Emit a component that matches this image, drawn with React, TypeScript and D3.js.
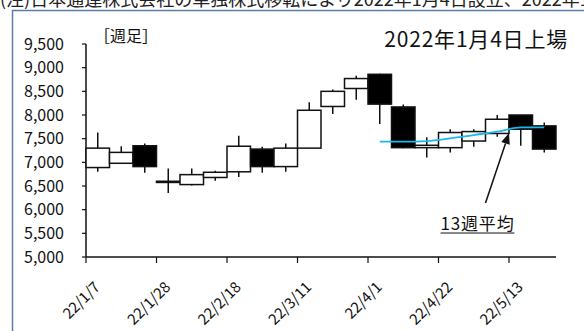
import * as d3 from "d3";
import { useEffect, useRef } from "react";

const weeks = [
  "22/1/7", "22/1/14", "22/1/21", "22/1/28", "22/2/4", "22/2/11", "22/2/18",
  "22/2/25", "22/3/4", "22/3/11", "22/3/18", "22/3/25", "22/4/1", "22/4/8",
  "22/4/15", "22/4/22", "22/4/29", "22/5/6", "22/5/13", "22/5/20",
];
const opens = [6890, 6980, 7350, 6600, 6530, 6680, 6800, 7280, 6910, 7300, 8180, 8560, 8860, 8170, 7310, 7310, 7450, 7610, 8000, 7770];
const highs = [7630, 7340, 7400, 6870, 6870, 6820, 7560, 7330, 7400, 8270, 8540, 8830, 8870, 8220, 7530, 7700, 7700, 8000, 8000, 7840];
const lows = [6800, 6970, 6780, 6350, 6510, 6610, 6690, 6780, 6800, 7290, 8020, 8320, 7810, 7300, 7100, 7210, 7330, 7540, 7350, 7210];
const closes = [7300, 7210, 6910, 6575, 6740, 6790, 7340, 6910, 7300, 8100, 8500, 8770, 8230, 7310, 7360, 7630, 7650, 7910, 7700, 7280];

// 13週移動平均（4/1から）
const maWeeks = ["22/4/1", "22/4/8", "22/4/15", "22/4/22", "22/4/29", "22/5/6", "22/5/13", "22/5/20"];
const maValues = [7436, 7436, 7450, 7507, 7577, 7648, 7740, 7740];

const yTicks = [5000, 5500, 6000, 6500, 7000, 7500, 8000, 8500, 9000, 9500];
const xTickLabels = ["22/1/7", "22/1/28", "22/2/18", "22/3/11", "22/4/1", "22/4/22", "22/5/13"];

const W = 584;
const H = 331;
const left = 86;
const right = 556;
const top = 44;
const bottom = 257;
const font = "'Noto Sans CJK JP', 'Noto Sans', sans-serif";

export default function App() {
  const ref = useRef<SVGSVGElement>(null);

  useEffect(() => {
    const svg = d3.select(ref.current);
    svg.selectAll("*").remove();

    const x = d3.scaleBand().domain(weeks).range([left, right]).paddingInner(0).paddingOuter(0);
    const y = d3.scaleLinear().domain([5000, 9500]).range([bottom, top]);
    const bw = x.bandwidth();

    svg.append("rect").attr("width", W).attr("height", H).attr("fill", "white");

    // 注記（上端で切れている）
    svg.append("text")
      .attr("x", 0).attr("y", 6)
      .attr("font-family", font).attr("font-size", 18).attr("fill", "#222")
      .text("(注)日本通運株式会社の単独株式移転により2022年1月4日設立、2022年1月4日上場");

    // 枠
    svg.append("rect")
      .attr("x", 12.5).attr("y", 10.5).attr("width", W).attr("height", H)
      .attr("fill", "white").attr("stroke", "#5a7bab").attr("stroke-width", 1.5);

    svg.append("text")
      .attr("x", 94).attr("y", 42)
      .attr("font-family", font).attr("font-size", 16).attr("fill", "#111")
      .text("［週足］");

    svg.append("text")
      .attr("x", 568).attr("y", 47).attr("text-anchor", "end")
      .attr("font-family", font).attr("font-size", 21).attr("letter-spacing", 0.8).attr("fill", "#111")
      .text("2022年1月4日上場");

    // y軸
    const gy = svg.append("g");
    gy.append("line").attr("x1", left).attr("x2", left).attr("y1", top).attr("y2", bottom)
      .attr("stroke", "#111").attr("stroke-width", 1.5);
    gy.selectAll(".yt").data(yTicks).enter().append("line")
      .attr("x1", left - 4).attr("x2", left).attr("y1", (d) => y(d)).attr("y2", (d) => y(d))
      .attr("stroke", "#111").attr("stroke-width", 1.2);
    gy.selectAll(".yl").data(yTicks).enter().append("text")
      .attr("x", 64).attr("y", (d) => y(d)).attr("dy", "0.36em").attr("text-anchor", "end")
      .attr("font-family", font).attr("font-size", 16).attr("fill", "#111")
      .text((d) => d3.format(",")(d));

    // x軸
    const gx = svg.append("g");
    gx.append("line").attr("x1", left).attr("x2", right).attr("y1", bottom).attr("y2", bottom)
      .attr("stroke", "#111").attr("stroke-width", 1.5);
    gx.selectAll(".xt").data(xTickLabels).enter().append("line")
      .attr("x1", (d) => x(d)!).attr("x2", (d) => x(d)!).attr("y1", bottom).attr("y2", bottom + 6)
      .attr("stroke", "#111").attr("stroke-width", 1.2);
    gx.selectAll(".xl").data(xTickLabels).enter().append("text")
      .attr("transform", (d) => `translate(${x(d)! + 15},${bottom + 31}) rotate(-45)`)
      .attr("text-anchor", "end")
      .attr("font-family", font).attr("font-size", 15).attr("fill", "#111")
      .text((d) => d);

    // ローソク足
    const candles = weeks.map((w, i) => ({ w, o: opens[i], h: highs[i], l: lows[i], c: closes[i] }));
    const g = svg.append("g");
    g.selectAll(".wick").data(candles).enter().append("line")
      .attr("x1", (d) => x(d.w)! + bw / 2).attr("x2", (d) => x(d.w)! + bw / 2)
      .attr("y1", (d) => y(d.h)).attr("y2", (d) => y(d.l))
      .attr("stroke", "#111").attr("stroke-width", 1.5);
    g.selectAll(".body").data(candles).enter().append("rect")
      .attr("x", (d) => x(d.w)!).attr("width", bw)
      .attr("y", (d) => y(Math.max(d.o, d.c)))
      .attr("height", (d) => Math.max(1, Math.abs(y(d.o) - y(d.c))))
      .attr("fill", (d) => (d.c >= d.o ? "white" : "black"))
      .attr("stroke", "#111").attr("stroke-width", 1.5);

    // 13週平均
    const line = d3.line<number>()
      .x((_, i) => x(maWeeks[i])! + bw / 2)
      .y((d) => y(d))
      .curve(d3.curveMonotoneX);
    svg.append("path").datum(maValues).attr("d", line)
      .attr("fill", "none").attr("stroke", "#1ab8ec").attr("stroke-width", 1.8);

    // 矢印
    const tipX = x("22/5/13")!;
    const tipY = y(7620);
    const tailX = x("22/5/6")!;
    const tailY = y(6140);
    const ang = Math.atan2(tipY - tailY, tipX - tailX);
    const ah = 11;
    const aw = 4.5;
    const bx = tipX - ah * Math.cos(ang);
    const by = tipY - ah * Math.sin(ang);
    svg.append("line").attr("x1", tailX).attr("y1", tailY).attr("x2", bx).attr("y2", by)
      .attr("stroke", "#111").attr("stroke-width", 1.5);
    svg.append("path")
      .attr("d", `M${tipX},${tipY}L${bx + aw * Math.sin(ang)},${by - aw * Math.cos(ang)}L${bx - aw * Math.sin(ang)},${by + aw * Math.cos(ang)}Z`)
      .attr("fill", "#111");

    const lx = x("22/5/6")! - 8;
    const ly = y(5570);
    const lt = svg.append("text")
      .attr("x", lx).attr("y", ly).attr("text-anchor", "middle")
      .attr("font-family", font).attr("font-size", 17).attr("letter-spacing", 0.8).attr("fill", "#111")
      .text("13週平均");
    const bb = (lt.node() as SVGTextElement).getBBox();
    svg.append("line").attr("x1", bb.x).attr("x2", bb.x + bb.width).attr("y1", ly + 3).attr("y2", ly + 3)
      .attr("stroke", "#111").attr("stroke-width", 1);
  }, []);

  return (
    <svg ref={ref} width={W} height={H} style={{ position: "absolute", left: 0, top: 0 }} />
  );
}
